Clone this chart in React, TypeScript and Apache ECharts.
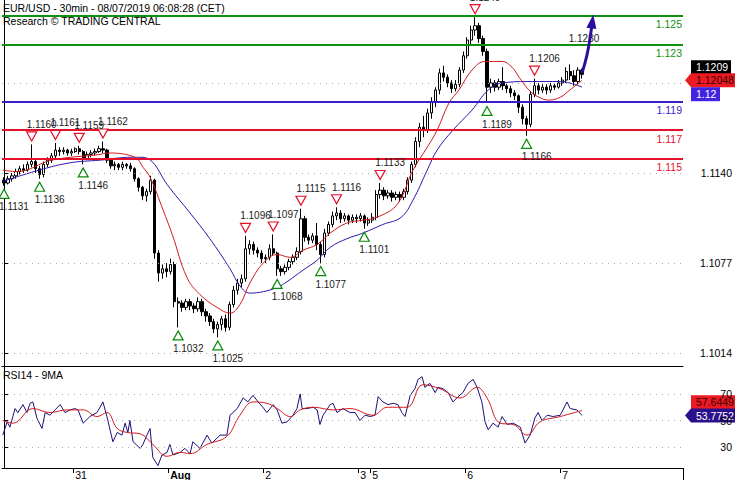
import { useEffect, useRef } from "react";
import * as echarts from "echarts";

const FONT = '"Liberation Sans", Arial, sans-serif';

// ---------- categories (hourly slots, incl. empty room on the right) ----------
const slotCount = 172;
const dayLabels = ["31", "Aug", "2", "3", "5", "6", "7"];
const dayStartBars = [18, 42, 66, 90, 93, 117, 141];

// ---------- candles: [open, close, low, high] ----------
const ohlc: [number, number, number, number][] = [
  [1.1135, 1.1133, 1.1131, 1.1137], [1.1133, 1.1136, 1.1132, 1.1138], [1.1136, 1.1138, 1.1134, 1.114], [1.1138, 1.1141, 1.1136, 1.1143],
  [1.1141, 1.1143, 1.1139, 1.1145], [1.1143, 1.1142, 1.114, 1.1146], [1.1142, 1.1146, 1.1141, 1.1148], [1.1146, 1.1148, 1.1144, 1.116],
  [1.1148, 1.1143, 1.114, 1.115], [1.1143, 1.1139, 1.1136, 1.1145], [1.1139, 1.1146, 1.1137, 1.1148], [1.1146, 1.1149, 1.1144, 1.1151],
  [1.1149, 1.1152, 1.1147, 1.1154], [1.1152, 1.1156, 1.115, 1.1161], [1.1156, 1.1155, 1.1152, 1.1158], [1.1155, 1.1156, 1.1153, 1.1158],
  [1.1156, 1.1154, 1.1152, 1.1157], [1.1154, 1.1155, 1.1152, 1.1157], [1.1155, 1.1157, 1.1154, 1.1158], [1.1157, 1.1155, 1.1153, 1.1159],
  [1.1155, 1.115, 1.1146, 1.1156], [1.115, 1.1153, 1.1149, 1.1155], [1.1153, 1.1154, 1.1151, 1.1156], [1.1154, 1.1155, 1.1152, 1.1157],
  [1.1155, 1.1157, 1.1154, 1.1159], [1.1157, 1.1156, 1.1154, 1.1162], [1.1156, 1.1149, 1.1147, 1.1157], [1.1149, 1.1145, 1.1143, 1.115],
  [1.1145, 1.1146, 1.1142, 1.1148], [1.1146, 1.1144, 1.1142, 1.1147], [1.1144, 1.1146, 1.1142, 1.1148], [1.1146, 1.1145, 1.1143, 1.1147],
  [1.1145, 1.1143, 1.1141, 1.1147], [1.1143, 1.1136, 1.1134, 1.1144], [1.1136, 1.113, 1.1127, 1.1137], [1.113, 1.1124, 1.1121, 1.1131],
  [1.1124, 1.1127, 1.112, 1.1129], [1.1127, 1.1135, 1.1125, 1.1138], [1.1135, 1.1084, 1.108, 1.1136], [1.1084, 1.107, 1.1064, 1.1086],
  [1.107, 1.1073, 1.1066, 1.1076], [1.1073, 1.1071, 1.1067, 1.1077], [1.1071, 1.1076, 1.1069, 1.108], [1.1076, 1.105, 1.1046, 1.1078],
  [1.105, 1.1049, 1.1032, 1.1053], [1.1049, 1.1046, 1.1043, 1.1051], [1.1046, 1.105, 1.1044, 1.1052], [1.105, 1.1047, 1.1044, 1.1052],
  [1.1047, 1.1045, 1.1042, 1.1049], [1.1045, 1.105, 1.1043, 1.1053], [1.105, 1.1043, 1.104, 1.1052], [1.1043, 1.104, 1.1036, 1.1045],
  [1.104, 1.1036, 1.1033, 1.1042], [1.1036, 1.1031, 1.1028, 1.1038], [1.1031, 1.1034, 1.1025, 1.1036], [1.1034, 1.1038, 1.103, 1.104],
  [1.1038, 1.1032, 1.1029, 1.1041], [1.1032, 1.1048, 1.103, 1.105], [1.1048, 1.1058, 1.1046, 1.1061], [1.1058, 1.1063, 1.1055, 1.1066],
  [1.1063, 1.1066, 1.106, 1.1069], [1.1066, 1.1087, 1.1064, 1.1096], [1.1087, 1.109, 1.1083, 1.1093], [1.109, 1.1086, 1.1083, 1.1092],
  [1.1086, 1.1084, 1.1081, 1.1088], [1.1084, 1.108, 1.1077, 1.1086], [1.108, 1.1081, 1.1077, 1.1083], [1.1081, 1.1087, 1.1079, 1.109],
  [1.1087, 1.1084, 1.1082, 1.1097], [1.1084, 1.1073, 1.1068, 1.1085], [1.1073, 1.1071, 1.1068, 1.1075], [1.1071, 1.1074, 1.1069, 1.1076],
  [1.1074, 1.1078, 1.1072, 1.108], [1.1078, 1.1081, 1.1076, 1.1083], [1.1081, 1.1085, 1.1079, 1.1088], [1.1085, 1.1108, 1.1083, 1.1115],
  [1.1108, 1.1095, 1.1092, 1.111], [1.1095, 1.1093, 1.109, 1.1097], [1.1093, 1.1096, 1.1091, 1.1098], [1.1096, 1.109, 1.1086, 1.1105],
  [1.109, 1.1083, 1.1077, 1.1092], [1.1083, 1.1098, 1.1081, 1.1101], [1.1098, 1.1104, 1.1096, 1.1106], [1.1104, 1.111, 1.1102, 1.1113],
  [1.111, 1.1112, 1.1107, 1.1116], [1.1112, 1.1108, 1.1105, 1.1114], [1.1108, 1.111, 1.1106, 1.1112], [1.111, 1.1107, 1.1104, 1.1111],
  [1.1107, 1.1109, 1.1105, 1.1111], [1.1109, 1.1108, 1.1105, 1.1111], [1.1108, 1.111, 1.1106, 1.1112], [1.111, 1.1105, 1.1101, 1.1111],
  [1.1105, 1.1107, 1.1103, 1.1109], [1.1107, 1.1109, 1.1105, 1.1112], [1.1109, 1.1125, 1.1107, 1.1128], [1.1125, 1.1128, 1.1122, 1.1133],
  [1.1128, 1.1124, 1.1121, 1.113], [1.1124, 1.1126, 1.1122, 1.1128], [1.1126, 1.1123, 1.112, 1.1128], [1.1123, 1.1125, 1.1121, 1.1127],
  [1.1125, 1.1123, 1.112, 1.1127], [1.1123, 1.1127, 1.1121, 1.1129], [1.1127, 1.1135, 1.1125, 1.1137], [1.1135, 1.1146, 1.1133, 1.1148],
  [1.1146, 1.1162, 1.1144, 1.1165], [1.1162, 1.1172, 1.1158, 1.1175], [1.1172, 1.117, 1.1165, 1.118], [1.117, 1.1182, 1.1168, 1.1185],
  [1.1182, 1.119, 1.1178, 1.1193], [1.119, 1.1198, 1.1186, 1.12], [1.1198, 1.121, 1.1195, 1.1213], [1.121, 1.1207, 1.1204, 1.1215],
  [1.1207, 1.1203, 1.12, 1.1209], [1.1203, 1.1199, 1.1196, 1.1205], [1.1199, 1.1202, 1.1197, 1.1205], [1.1202, 1.1212, 1.12, 1.1214],
  [1.1212, 1.1222, 1.121, 1.1225], [1.1222, 1.1233, 1.122, 1.1235], [1.1233, 1.124, 1.123, 1.1243], [1.124, 1.1243, 1.1236, 1.1249],
  [1.1243, 1.1234, 1.1231, 1.1245], [1.1234, 1.1225, 1.1222, 1.1236], [1.1225, 1.12, 1.1189, 1.1227], [1.12, 1.1203, 1.1196, 1.1206],
  [1.1203, 1.12, 1.1197, 1.1205], [1.12, 1.1204, 1.1198, 1.1206], [1.1204, 1.1201, 1.1198, 1.1214], [1.1201, 1.1199, 1.1196, 1.1203],
  [1.1199, 1.1196, 1.1193, 1.1201], [1.1196, 1.1194, 1.1191, 1.1198], [1.1194, 1.1186, 1.1182, 1.1195], [1.1186, 1.1178, 1.1174, 1.1188],
  [1.1178, 1.1174, 1.1166, 1.118], [1.1174, 1.1195, 1.1172, 1.1197], [1.1195, 1.1201, 1.1193, 1.1206], [1.1201, 1.1198, 1.1195, 1.1203],
  [1.1198, 1.12, 1.1196, 1.1202], [1.12, 1.1198, 1.1195, 1.1202], [1.1198, 1.1201, 1.1196, 1.1203], [1.1201, 1.12, 1.1198, 1.1203],
  [1.12, 1.1203, 1.1199, 1.1205], [1.1203, 1.1205, 1.1201, 1.1207], [1.1205, 1.1211, 1.1203, 1.1214], [1.1211, 1.1208, 1.1205, 1.1216],
  [1.1208, 1.1204, 1.1201, 1.1212], [1.1204, 1.1212, 1.1202, 1.1214], [1.1212, 1.1209, 1.1206, 1.1213],
];

// ---------- moving averages: [slot, price] ----------
const maRed: [number, number][] = [
  [-0.3, 1.1142], [3.3, 1.1141], [12.1, 1.1149], [24.3, 1.1153], [26.0, 1.1154], [33.1, 1.1151], [35.1, 1.1144],
  [36.9, 1.1137], [40.2, 1.1114], [42.5, 1.1097], [46.2, 1.1067], [49.5, 1.1055], [53.8, 1.1046], [57.1, 1.1042],
  [59.6, 1.1048], [62.1, 1.1063], [65.5, 1.1077], [69.0, 1.1083], [72.3, 1.1081], [75.5, 1.1086], [79.1, 1.109],
  [82.4, 1.1098], [86.6, 1.1105], [90.7, 1.1107], [94.2, 1.1109], [99.3, 1.1118], [103.3, 1.1142], [106.9, 1.1158],
  [109.4, 1.117], [112.4, 1.1189], [114.9, 1.1198], [118.2, 1.1212], [121.5, 1.1218], [125.8, 1.1218], [128.3, 1.1214],
  [130.1, 1.1207], [132.6, 1.1198], [135.1, 1.1193], [137.7, 1.1191], [140.5, 1.1193], [142.9, 1.1198], [146.0, 1.12048],
];
const maBlue: [number, number][] = [
  [-0.3, 1.1134], [7.6, 1.1141], [16.4, 1.1147], [24.3, 1.1149], [32.1, 1.1151], [34.6, 1.1151], [37.4, 1.1148],
  [41.2, 1.1132], [47.0, 1.1112], [52.0, 1.1094], [57.1, 1.1073], [59.6, 1.1061], [62.1, 1.1056], [65.5, 1.1057],
  [69.0, 1.106], [71.5, 1.1064], [75.5, 1.1072], [79.1, 1.1079], [82.4, 1.1088], [86.6, 1.1094], [90.7, 1.1098],
  [95.7, 1.1104], [100.3, 1.1109], [103.3, 1.1121], [106.9, 1.1142], [109.4, 1.1156], [113.4, 1.117], [118.2, 1.1184],
  [122.3, 1.1198], [125.8, 1.1203], [133.4, 1.1204], [140.5, 1.1204], [146.0, 1.12],
];

// ---------- RSI14 and its 9MA: [slot, value] ----------
const rsi14: [number, number][] = [
  [-0.3, 39], [0.8, 49], [1.5, 45], [2.8, 59], [3.5, 56], [4.8, 62], [5.8, 56], [6.6, 63], [7.3, 64], [8.3, 52],
  [9.6, 44], [10.4, 56], [11.6, 54], [12.9, 58], [14.2, 62], [15.4, 56], [16.7, 58], [17.9, 59], [18.7, 58], [20.0, 48],
  [21.7, 53], [23.5, 56], [25.0, 64], [26.0, 53], [27.5, 34], [28.6, 41], [29.8, 39], [30.6, 48], [31.3, 41], [31.8, 50],
  [32.6, 34], [34.4, 29], [35.1, 32], [36.1, 39], [36.9, 44], [37.6, 22], [38.9, 16], [39.9, 24], [41.2, 26], [41.9, 32],
  [42.7, 24], [44.5, 26], [45.7, 29], [47.0, 25], [47.7, 34], [49.5, 29], [51.3, 39], [52.5, 33], [54.6, 39], [56.3, 39],
  [57.1, 54], [58.9, 59], [60.4, 67], [61.6, 64], [62.9, 69], [64.2, 64], [65.4, 60], [66.4, 56], [68.0, 62], [69.0, 58],
  [70.2, 48], [71.5, 49], [73.0, 54], [74.0, 59], [74.8, 70], [75.3, 59], [76.5, 59], [78.1, 60], [79.1, 58], [79.8, 47],
  [80.6, 54], [82.4, 62], [83.1, 63], [84.1, 56], [85.6, 59], [87.4, 56], [88.7, 56], [89.9, 50], [91.2, 54], [92.5, 53],
  [93.7, 54], [94.5, 68], [95.7, 64], [97.0, 62], [98.3, 63], [99.5, 62], [100.5, 56], [101.3, 53], [102.6, 69], [103.8, 74],
  [104.6, 81], [105.6, 83], [106.3, 75], [107.6, 78], [108.9, 71], [109.6, 75], [110.9, 74], [112.2, 71], [113.4, 64], [114.7, 68],
  [115.9, 71], [117.2, 78], [118.5, 81], [119.5, 75], [120.7, 64], [121.5, 49], [122.3, 43], [123.5, 48], [124.8, 45], [125.8, 53],
  [127.1, 47], [128.6, 48], [130.4, 45], [131.6, 33], [132.9, 39], [134.1, 52], [134.9, 56], [135.9, 50], [137.2, 54], [138.7, 53],
  [140.5, 54], [142.2, 64], [143.0, 59], [144.7, 58], [146.0, 53.8],
];
const rsiMa9: [number, number][] = [
  [-0.3, 50], [2.3, 48], [7.3, 59], [11.6, 56], [15.9, 58], [20.0, 58], [23.5, 53], [26.0, 56], [28.6, 44], [31.1, 41],
  [34.4, 40], [37.6, 32], [41.2, 23], [44.5, 26], [47.0, 25], [51.3, 32], [56.3, 38], [59.6, 54], [62.9, 64], [66.4, 63],
  [69.0, 59], [72.3, 53], [74.8, 58], [78.1, 60], [83.1, 58], [87.4, 59], [93.2, 54], [96.8, 60], [101.8, 60], [105.8, 77],
  [110.1, 74], [115.2, 67], [119.5, 75], [122.0, 67], [125.3, 48], [128.6, 47], [132.1, 39], [135.4, 49], [140.5, 53], [146.0, 57.6],
];

// ---------- swing annotations: [slot, price, label] ----------
const highMarks: [number, number, string][] = [
  [7, 1.116, "1.1160"], [13, 1.1161, "1.1161"], [19, 1.1159, "1.1159"], [25, 1.1162, "1.1162"], [61, 1.1096, "1.1096"],
  [68, 1.1097, "1.1097"], [75, 1.1115, "1.1115"], [84, 1.1116, "1.1116"], [95, 1.1133, "1.1133"], [119, 1.1249, "1.1249"],
  [134, 1.1206, "1.1206"],
];
const lowMarks: [number, number, string][] = [
  [0, 1.1131, "1.1131"], [9, 1.1136, "1.1136"], [20, 1.1146, "1.1146"], [44, 1.1032, "1.1032"], [54, 1.1025, "1.1025"],
  [69, 1.1068, "1.1068"], [80, 1.1077, "1.1077"], [91, 1.1101, "1.1101"], [122, 1.1189, "1.1189"], [132, 1.1166, "1.1166"],
];

// ---------- key levels ----------
const resistanceLevels = [1.125, 1.123];
const pivotLevels = [1.119];
const supportLevels = [1.117, 1.115];
const priceTicks = [1.1014, 1.1077, 1.114];
const priceGrid = [1.1014, 1.1077, 1.114, 1.1203];
const rsiTicks = [30, 50, 70];

// ---------- target arrow ----------
const targetPath: [number, number][] = [[146, 1.121], [147.2, 1.1222], [148.0, 1.1234], [148.6, 1.1246]];
const targetText = "1.1230";
const targetLabelAt: [number, number] = [146.5, 1.12344];

// ---------- last values ----------
const lastClose = 1.1209;
const lastMaRed = 1.12048;
const lastMaBlue = 1.12;
const lastRsi = 53.7752;
const lastRsiMa = 57.6449;

const titleLine1 = "EUR/USD - 30min - 08/07/2019 06:08:28 (CET)";
const titleLine2 = "Research \u00A9 TRADING CENTRAL";
const rsiTitle = "RSI14 - 9MA";

const GREEN = "#109010";
const RED = "#e5102a";
const BLUE = "#3a1cc8";

export default function App() {
  const ref = useRef<HTMLDivElement>(null);

  useEffect(() => {
    if (!ref.current) return;
    const chart = echarts.init(ref.current, null, { renderer: "svg" });

    const dayMap = new Map<number, string>();
    dayStartBars.forEach((b, k) => dayMap.set(b, dayLabels[k]));
    const categories = Array.from({ length: slotCount }, (_, i) => dayMap.get(i) ?? "s" + i);
    const isDayStart = (idx: number) => dayMap.has(idx);

    const levelLine = (v: number, color: string) => ({
      yAxis: v,
      lineStyle: { color, width: 2, type: "solid" },
      label: {
        show: true,
        position: "insideEndBottom",
        formatter: String(v),
        color,
        fontSize: 10.5,
        fontFamily: FONT,
        distance: [1, 3],
      },
    });

    const gridLine = (v: number) => ({
      yAxis: v,
      lineStyle: { color: "#aaaaaa", width: 1, type: [1, 5] },
      label: { show: false },
    });

    const markLabel = { fontSize: 10, fontFamily: FONT, color: "#1a1a1a" };

    const option: any = {
      animation: false,
      backgroundColor: "#fff",
      textStyle: { fontFamily: FONT },
      grid: [
        { left: 2, right: 52, top: 0, height: 366 },
        { left: 2, right: 52, top: 366, height: 102 },
      ],
      xAxis: [
        {
          type: "category", gridIndex: 0, data: categories, boundaryGap: true,
          axisLine: { show: true, onZero: false, lineStyle: { color: "#000", width: 1 } },
          axisTick: { show: false }, axisLabel: { show: false }, splitLine: { show: false },
        },
        {
          type: "category", gridIndex: 1, data: categories, boundaryGap: true,
          axisLine: { show: true, onZero: false, lineStyle: { color: "#000", width: 1 } },
          axisTick: { show: true, interval: isDayStart, length: 5, lineStyle: { color: "#000" } },
          axisLabel: {
            show: true, interval: isDayStart, align: "left", margin: 1, fontSize: 10.5, color: "#000", fontFamily: FONT,
            formatter: (v: string) => (v === "Aug" ? "{b|Aug}" : v),
            rich: { b: { fontWeight: "bold", fontSize: 10.5, fontFamily: FONT, color: "#000" } },
          },
          splitLine: { show: false },
        },
        { type: "value", gridIndex: 0, min: -0.5, max: slotCount - 0.5, show: false },
        { type: "value", gridIndex: 1, min: -0.5, max: slotCount - 0.5, show: false },
      ],
      yAxis: [
        {
          type: "value", gridIndex: 0, position: "right", min: 1.1005, max: 1.1261,
          axisLine: { show: true, lineStyle: { color: "#000" } },
          axisTick: { show: true, length: 5, customValues: priceTicks, lineStyle: { color: "#000" } },
          axisLabel: {
            show: true, customValues: priceTicks, formatter: (v: number) => v.toFixed(4),
            align: "right", margin: 49, fontSize: 10.5, color: "#000", fontFamily: FONT,
          },
          splitLine: { show: false },
        },
        {
          type: "value", gridIndex: 1, position: "right", min: 14.2, max: 91.1,
          axisLine: { show: true, lineStyle: { color: "#000" } },
          axisTick: { show: true, length: 5, customValues: rsiTicks, lineStyle: { color: "#000" } },
          axisLabel: {
            show: true, customValues: rsiTicks, formatter: (v: number) => String(Math.round(v)),
            align: "right", margin: 49, fontSize: 10.5, color: "#000", fontFamily: FONT,
          },
          splitLine: { show: false },
        },
      ],
      series: [
        {
          type: "line", name: "MA slow", xAxisIndex: 2, yAxisIndex: 0, data: maBlue, smooth: 0.4,
          showSymbol: false, symbol: "none", lineStyle: { color: "#2c18b0", width: 1 }, z: 4,
          markLine: {
            silent: true, symbol: ["none", "none"], precision: 6,
            data: priceGrid.map(gridLine),
          },
        },
        {
          type: "candlestick", name: "EUR/USD", xAxisIndex: 0, yAxisIndex: 0, data: ohlc, barWidth: 2.8,
          itemStyle: { color: "#fff", color0: "#000", borderColor: "#000", borderColor0: "#000", borderWidth: 1 },
          markPoint: {
            silent: true,
            data: [
              ...highMarks.map(([i, p, t]) => ({
                coord: [i, p], symbol: "path://M0,0L10,0L5,9Z", symbolSize: [10, 9], symbolOffset: [0, -8],
                itemStyle: { color: "#fff", borderColor: RED, borderWidth: 1.2 },
                label: { show: true, formatter: t, position: "top", distance: 2, offset: [10, 0], ...markLabel },
              })),
              ...lowMarks.map(([i, p, t]) => ({
                coord: [i, p], symbol: "triangle", symbolSize: [10, 9], symbolOffset: [0, 8],
                itemStyle: { color: "#fff", borderColor: "#0a8a0a", borderWidth: 1.2 },
                label: { show: true, formatter: t, position: "bottom", distance: 3, offset: [10, 0], ...markLabel },
              })),
            ],
          },
          z: 3,
        },
        {
          type: "line", name: "MA fast", xAxisIndex: 2, yAxisIndex: 0, data: maRed, smooth: 0.4,
          showSymbol: false, symbol: "none", lineStyle: { color: "#d01c1c", width: 1 }, z: 4,
          markLine: {
            silent: true, symbol: ["none", "none"], precision: 6,
            data: [
              ...resistanceLevels.map((v) => levelLine(v, GREEN)),
              ...pivotLevels.map((v) => levelLine(v, BLUE)),
              ...supportLevels.map((v) => levelLine(v, RED)),
            ],
          },
        },
        {
          type: "line", name: "target", xAxisIndex: 2, yAxisIndex: 0, smooth: 0.5, symbol: "none",
          data: targetPath.map((p, k) =>
            k === targetPath.length - 1
              ? { value: p, symbol: "triangle", symbolSize: [10, 14], symbolRotate: -8, itemStyle: { color: "#2a0c9e" } }
              : { value: p }
          ),
          lineStyle: { color: "#2a0c9e", width: 3 },
          itemStyle: { color: "#2a0c9e" },
          markPoint: {
            silent: true,
            data: [{
              coord: targetLabelAt, symbol: "circle", symbolSize: 1, itemStyle: { color: "rgba(0,0,0,0)" },
              label: { show: true, position: "inside", formatter: targetText, ...markLabel },
            }],
          },
          z: 5,
        },
        {
          type: "line", name: "RSI14", xAxisIndex: 3, yAxisIndex: 1, data: rsi14, symbol: "none",
          lineStyle: { color: "#1c0f78", width: 1 },
          markLine: {
            silent: true, symbol: ["none", "none"], precision: 6,
            data: rsiTicks.map(gridLine),
          },
          z: 3,
        },
        {
          type: "line", name: "9MA", xAxisIndex: 3, yAxisIndex: 1, data: rsiMa9, symbol: "none", smooth: 0.4,
          lineStyle: { color: "#d01c1c", width: 1 }, z: 4,
        },
      ],
    };

    chart.setOption(option);

    const py = (axis: number, v: number) => chart.convertToPixel({ yAxisIndex: axis } as any, v) as unknown as number;
    const font = `10.5px ${FONT}`;
    const valueBox = (y: number, text: string, bg: string, fg: string, width: number, pointer: boolean) => ({
      type: "group",
      children: [
        pointer
          ? { type: "polygon", shape: { points: [[685, y], [691, y - 7], [737, y - 7], [737, y + 7], [691, y + 7]] }, style: { fill: bg } }
          : { type: "rect", shape: { x: 691, y: y - 7, width, height: 14 }, style: { fill: bg } },
        { type: "text", style: { text, x: 696, y, fill: fg, font, verticalAlign: "middle", align: "left" } },
      ],
    });

    chart.setOption({
      graphic: [
        { type: "text", x: 2, y: 1, style: { text: titleLine1, font, fill: "#000", backgroundColor: "#fff", padding: [1, 2, 1, 1] } },
        { type: "text", x: 2, y: 14, style: { text: titleLine2, font, fill: "#000", backgroundColor: "#fff", padding: [1, 2, 1, 1] } },
        { type: "text", x: 3, y: 369, style: { text: rsiTitle, font, fill: "#000" } },
        { type: "line", shape: { x1: 683.5, y1: 468, x2: 683.5, y2: 480 }, style: { stroke: "#000", lineWidth: 1 } },
        valueBox(py(0, lastClose) - 7, lastClose.toFixed(4), "#000", "#fff", 40, false),
        valueBox(py(0, lastMaRed), lastMaRed.toFixed(5), "#ec1a22", "#3a0000", 46, true),
        valueBox(py(0, lastMaBlue) + 7, String(lastMaBlue), "#4322e0", "#fff", 29, false),
        valueBox(py(1, lastRsiMa) - 8, lastRsiMa.toFixed(4), "#ec1a22", "#3a0000", 46, false),
        valueBox(py(1, lastRsi), lastRsi.toFixed(4), "#2b108c", "#fff", 46, true),
      ],
    });

    return () => chart.dispose();
  }, []);

  return <div ref={ref} style={{ position: "fixed", left: 0, top: 0, width: 735, height: 480 }} />;
}
